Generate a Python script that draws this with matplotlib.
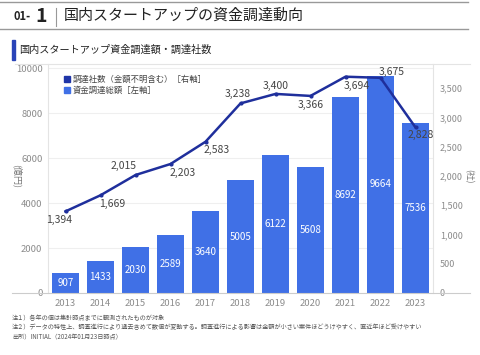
import matplotlib.pyplot as plt
from matplotlib.lines import Line2D
from matplotlib.patches import Rectangle

plt.rcParams['font.family'] = ['Noto Sans CJK JP', 'DejaVu Sans']

# data
years = ['2013', '2014', '2015', '2016', '2017', '2018', '2019', '2020', '2021', '2022', '2023']
funding = [907, 1433, 2030, 2589, 3640, 5005, 6122, 5608, 8692, 9664, 7536]
companies = [1394, 1669, 2015, 2203, 2583, 3238, 3400, 3366, 3694, 3675, 2828]
# label offsets for the line values (px)
label_off = [(-6, -9), (12, -9), (-12, 9), (12, -9), (11, -8), (-3, 9),
             (0, 8), (0, -9), (11, -9), (11, 6), (5, -8)]

bar_color = '#4070E6'
line_color = '#1F2F9C'
W, H = 480, 355

fig = plt.figure(figsize=(4.8, 3.55), dpi=100)

def fx(x):
    return x / W

def fy(y):
    return 1 - y / H

# header
fig.add_artist(Line2D([fx(0), fx(468)], [fy(1.5), fy(1.5)], color='#999999', lw=1.0))
fig.add_artist(Line2D([fx(0), fx(468)], [fy(29), fy(29)], color='#999999', lw=1.0))
fig.add_artist(Line2D([fx(56), fx(56)], [fy(8), fy(26)], color='#999999', lw=0.8))
fig.text(fx(13), fy(17), '01-', fontsize=8, fontweight='bold', color='#222222', va='center')
fig.text(fx(35), fy(16), '1', fontsize=14, fontweight='bold', color='#222222', va='center')
fig.text(fx(64), fy(16), '国内スタートアップの資金調達動向', fontsize=10.8,
         color='#222222', va='center')

# sub header
fig.add_artist(Rectangle((fx(12), fy(60)), 3 / W, 20 / H, color='#2A44B8'))
fig.text(fx(19), fy(50), '国内スタートアップ資金調達額・調達社数', fontsize=7.3,
         color='#222222', va='center')
fig.add_artist(Line2D([fx(15), fx(470)], [fy(64), fy(64)], color='#E4E4E4', lw=0.8))

# axes
ax = fig.add_axes([fx(48), fy(293), (433 - 48) / W, (293 - 64) / H])
x = range(len(years))
bars = ax.bar(x, funding, width=0.75, color=bar_color, zorder=2)
ax.bar_label(bars, labels=[str(v) for v in funding], label_type='center',
             color='white', fontsize=7)
ax.set_xlim(-0.5, 10.5)
ax.set_ylim(0, 10178)
ax.set_yticks(range(0, 10001, 2000))
ax.set_xticks(list(x))
ax.set_xticklabels(years)
ax.grid(axis='y', color='#EFEFEF', lw=0.8, zorder=0)
ax.tick_params(length=0, labelsize=6.8, colors='#8C8C8C', pad=4)
for s in ['top', 'bottom']:
    ax.spines[s].set_visible(False)
ax.spines['left'].set_color('#E4E4E4')
ax.spines['right'].set_visible(False)
ax.set_ylabel('(億円)', fontsize=6.5, color='#777777', rotation=270, va='center')
ax.yaxis.set_label_coords(-31 / 385, 0.51)

ax2 = ax.twinx()
ax2.plot(x, companies, color=line_color, lw=1.8, marker='o', markersize=2, zorder=3)
ax2.set_ylim(0, 3911)
ax2.set_yticks(range(0, 3501, 500))
ax2.set_yticklabels([f'{v:,}' for v in range(0, 3501, 500)])
ax2.tick_params(length=0, labelsize=6.5, colors='#8C8C8C', pad=5)
for s in ['top', 'bottom', 'left']:
    ax2.spines[s].set_visible(False)
ax2.spines['right'].set_color('#E4E4E4')
for i, v in enumerate(companies):
    ax2.annotate(f'{v:,}', (i, v), xytext=(label_off[i][0] * 0.72, label_off[i][1] * 0.72),
                 textcoords='offset points', ha='center', va='center',
                 fontsize=7.5, color='#444444')
ax2.set_ylabel('(社)', fontsize=6.3, color='#777777', rotation=270, va='center')
ax2.yaxis.set_label_coords(1 + 36 / 385, 0.51)

# baseline
fig.add_artist(Line2D([fx(12), fx(470)], [fy(293), fy(293)], color='#CCCCCC', lw=0.8))

# legend
fig.add_artist(Rectangle((fx(64), fy(82)), 6 / W, 6 / H, color='#1F35A8'))
fig.add_artist(Rectangle((fx(64), fy(93)), 6 / W, 6 / H, color=bar_color))
fig.text(fx(73), fy(79), '調達社数（金額不明含む）［右軸］', fontsize=6, color='#444444', va='center')
fig.text(fx(73), fy(90), '資金調達総額［左軸］', fontsize=6, color='#444444', va='center')

# notes
notes = ['注１）各年の値は集計時点までに観測されたものが対象',
         '注２）データの特性上、調査進行により過去含めて数値が変動する。調査進行による影響は金額が小さい案件ほどうけやすく、直近年ほど受けやすい',
         '出所）INITIAL（2024年01月23日時点）']
for i, t in enumerate(notes):
    fig.text(fx(12), fy(318 + i * 9.5), t, fontsize=4.45, color='#555555', va='center')

fig.savefig('out.png', dpi=100)
